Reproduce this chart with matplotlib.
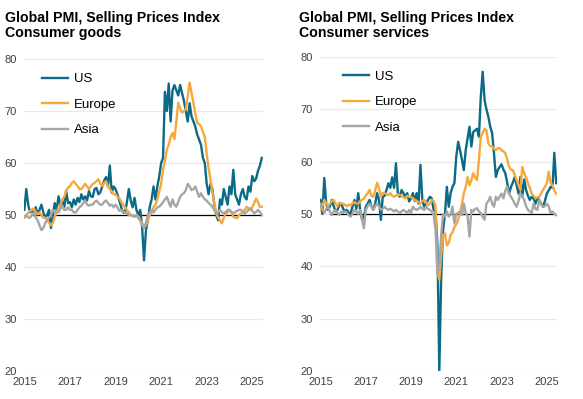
import numpy as np
import matplotlib
matplotlib.use("Agg")
import matplotlib.pyplot as plt

plt.rcParams['font.family'] = ['Liberation Sans', 'DejaVu Sans']

# monthly readings, Jan 2015 .. Jun 2025
goods_us = [
    51, 55, 52, 50.5, 51, 50, 51.5, 50, 51, 52, 50.5, 49.5,
    50, 51, 47.5, 50, 52.3, 51, 53.6, 51.8, 52.7, 51.5, 54.7, 52.3,
    52.5, 51.5, 53, 52, 53.3, 52.5, 54, 53, 53.6, 52.8, 54.6, 53.6,
    53.5, 55, 55.2, 54, 54.4, 55.5, 56.6, 57.3, 55.5, 59.5, 54.3, 55.5,
    55, 54, 52.8, 51.5, 50.5, 50.5, 52.5, 55, 52.8, 51.5, 53.3, 51,
    50, 51, 47.7, 41.3, 47, 49, 51.6, 53, 55.5, 53, 55.5, 57.4,
    60, 61, 73.7, 70, 75.3, 68, 74, 75, 74, 73, 75, 73.5,
    72, 70, 68, 71.5, 69, 68, 67, 65.5, 64.5, 63.5, 61, 60,
    56, 54, 56, 55, 52, 50, 49, 53, 52, 55, 53.5, 52,
    55.5, 54, 58.7, 54, 53, 52, 54, 55, 53.5, 53, 55.5, 54.5,
    57.5, 56.5, 57, 58.5, 59.5, 61,
]
goods_eu = [
    49.5, 50, 50.4, 50.8, 51, 51.3, 50.5, 50.2, 50.5, 50, 49.5, 49.5,
    49, 48.5, 48, 48.5, 49.7, 50.5, 51.5, 52, 53, 53.5, 54.6, 55.3,
    55.5, 56.2, 56.5, 56, 55.6, 55, 55, 55.5, 56, 55.5, 55, 55.5,
    56, 56.2, 56.5, 56.9, 56, 55.6, 56.2, 56.5, 55.5, 55, 54.5, 54,
    54, 53.5, 53.3, 52.5, 52, 51.5, 51, 50.5, 50, 50, 49.7, 50,
    49.7, 49, 48.5, 47.8, 48, 49, 50, 50.5, 51.5, 52, 53, 54.5,
    56, 58.7, 60.5, 62.6, 63.5, 65, 65.8, 64.6, 68, 71.6, 70.5, 69.7,
    70, 70.3, 72.9, 75.5, 73.5, 71.6, 69.5, 67.7, 67.5, 67, 66, 65,
    61.8, 59, 56.8, 54.5, 52.3, 50.5, 49.5, 49, 48.4, 49.5, 50.3, 50.5,
    51, 50.5, 49.7, 49.5, 49.4, 50, 50.3, 50.5, 51, 51.6, 51.3, 51,
    51.5, 52.3, 53.2, 52.5, 51.6, 51.6,
]
goods_asia = [
    49.7, 50, 49.5, 49.5, 50, 50.5, 49.5, 49, 48, 47.1, 47.5, 48.5,
    49, 49.5, 50, 51, 50.5, 50.8, 50.5, 51.2, 51.8, 51, 51, 51.5,
    51, 51, 50.5, 50.5, 51, 51.5, 51.8, 52.3, 52.8, 52, 51.8, 52,
    52, 52.5, 52.8, 52.3, 52, 52, 52.5, 52.8, 52.3, 51.8, 52, 51.5,
    52, 51.5, 50.8, 51, 50.6, 50.5, 50.3, 50, 50, 49.8, 49.7, 50,
    49.4, 49, 48, 47.5, 48.5, 50, 50.5, 51, 50.5, 51, 51.5, 51.6,
    52, 52.5, 53, 53.5, 52.5, 51.6, 53, 52, 51.6, 52.5, 53.5, 54,
    54.2, 54.8, 56, 55.5, 54.8, 55, 55.5, 54.5, 53.5, 54.2, 53.5, 53,
    52.8, 52.3, 52, 51.6, 51, 50.3, 50.5, 51, 50.6, 50.3, 50.6, 51,
    51, 50.6, 50.3, 50.6, 50.8, 51, 51, 50.6, 50.3, 50.6, 51, 51.3,
    50.8, 50.3, 50.6, 51, 50.6, 50,
]

serv_us = [
    52.7, 50, 56.9, 52, 50.8, 51.5, 52.7, 51.5, 50.5, 50.8, 51.8, 52,
    51, 50.5, 50.8, 50.2, 50.2, 51.5, 52.7, 51, 54, 50.8, 49, 49.5,
    51.4, 52, 52.7, 51.5, 50.8, 52, 54, 52.7, 48.9, 53.3, 53.5, 54.6,
    55.9, 55, 57, 55, 59.7, 54, 53.3, 54.6, 54, 53.3, 54, 52.4,
    53, 54, 52.5, 54, 52, 59.4, 52.7, 51.4, 52, 52.7, 53.3, 53,
    50.8, 50.5, 44, 20, 38, 47, 50, 55.2, 51.4, 54, 55.2, 55.9,
    61, 63.8, 62.2, 60.4, 58.4, 62.2, 64.5, 66.7, 62.9, 65.7, 66, 66.3,
    64.8, 72.4, 77.2, 71.8, 70, 68.6, 66.7, 65.5, 61.6, 57.1, 58.4, 59,
    59.5, 58.5, 57.8, 56, 53.9, 55.2, 56, 57.1, 55.5, 53.9, 57.1, 53.3,
    56.6, 54.6, 53.5, 52.7, 53.3, 53, 52, 53, 52.7, 52, 51.4, 52.5,
    53.9, 54.5, 55.2, 55, 61.7, 55.9,
]
serv_eu = [
    50.8, 51.5, 52.7, 52, 51.5, 52, 52.5, 52.7, 52, 51.5, 52.2, 52,
    52, 51.7, 51.5, 51.8, 51.7, 52, 52.3, 52, 52, 52.5, 52.7, 53,
    53.5, 54, 54.6, 53.5, 53.3, 54.5, 56, 55, 53.3, 54, 54, 53.8,
    53.6, 54, 53.5, 53.3, 53.5, 53.8, 53.6, 53.6, 53.2, 53, 53.5, 53.3,
    53.3, 53, 52.7, 52.5, 52.3, 52, 52.5, 52.7, 52.2, 51.7, 52, 52.7,
    52.5, 51.5, 39, 37.4, 42, 46, 46.3, 44, 44.5, 46, 46.5, 47.5,
    48, 49, 50, 52, 53.9, 55.2, 57.1, 55.5, 56.5, 57.8, 57, 56.5,
    60.3, 64.8, 65.5, 66.3, 66, 63.5, 63, 62.9, 62.5, 62.2, 62.6, 62.6,
    62.2, 62, 61.6, 60.5, 59, 58.5, 58.4, 57.5, 56.5, 55.5, 54.6, 59,
    57.8, 57, 55.9, 55, 53.9, 53.5, 53, 53.2, 53.3, 54, 54.6, 55.2,
    55.9, 58.1, 55.9, 55.6, 54.5, 53.9,
]
serv_asia = [
    52, 51, 50.2, 51, 51.4, 50.5, 49.8, 50.5, 50.8, 50.2, 49.8, 50.5,
    50.2, 50.5, 50.2, 49.8, 49.5, 50, 50.8, 50.5, 50, 50.8, 49, 47.3,
    50.8, 51.5, 52, 51.5, 50.8, 51.5, 52, 51.5, 50.8, 51, 51.4, 51,
    50.8, 51, 50.8, 50.5, 50.8, 50.5, 50.2, 50.5, 50.8, 50.5, 50.2, 50.8,
    50.2, 51.4, 51, 50.8, 51, 51.4, 51, 50.8, 51.4, 51, 50.8, 50.5,
    49.8, 47, 38.7, 40, 46, 50, 49.5, 50.5, 49.5, 50, 51.4, 48.2,
    50, 50.2, 50.5, 49.8, 52, 50.2, 49.5, 45.7, 50.8, 50.5, 51, 51.1,
    50.5, 50.2, 49.5, 48.9, 52, 52.5, 53.3, 52, 51.4, 53.3, 52.7, 53.3,
    53.9, 53, 54.5, 55.2, 53.9, 53.3, 52.7, 52, 51.4, 52.5, 53.9, 53.5,
    52.7, 51.5, 50.8, 50.5, 50.2, 52, 51, 50.8, 52.7, 52, 51.4, 51.5,
    52, 51.5, 50.2, 50.5, 50, 49.8,
]

series_names = ["US", "Europe", "Asia"]
colors = ["#0b6a86", "#f5a83c", "#a6a6a6"]
year_ticks = [2015, 2017, 2019, 2021, 2023, 2025]
y_ticks = [20, 30, 40, 50, 60, 70, 80]

x = 2015 + np.arange(len(goods_us)) / 12.0

fig = plt.figure(figsize=(5.83, 3.99), dpi=100)
ax1 = fig.add_axes([0.041, 0.070, 0.410, 0.782])
ax2 = fig.add_axes([0.549, 0.070, 0.407, 0.787])

panels = [
    (ax1, [goods_us, goods_eu, goods_asia], "Global PMI, Selling Prices Index\nConsumer goods", 0.008, 0.075, 0.955),
    (ax2, [serv_us, serv_eu, serv_asia], "Global PMI, Selling Prices Index\nConsumer services", 0.513, 0.095, 0.957),
]

for ax, data, title, tx, lx, ly in panels:
    for vals, name, c in zip(data, series_names, colors):
        ax.plot(x, vals, color=c, lw=1.7, label=name)
    ax.axhline(50, color="black", lw=0.9, xmin=0.04, zorder=1.5)
    ax.set_ylim(20, 80)
    ax.set_xlim(2014.98, 2015 + 125.6 / 12)
    ax.set_yticks(y_ticks)
    ax.set_xticks(year_ticks)
    ax.grid(axis="y", color="#e8e8e8", lw=0.8)
    ax.set_axisbelow(True)
    for s in ax.spines.values():
        s.set_visible(False)
    ax.tick_params(length=0, labelsize=8, labelcolor="#404040", pad=4)
    ax.tick_params(axis="y", pad=5)
    ax.legend(loc="upper left", bbox_to_anchor=(lx, ly), frameon=False,
              fontsize=9.5, handlelength=2.0, handletextpad=0.45,
              labelspacing=1.0, borderpad=0, borderaxespad=0)
    fig.text(tx, 0.972, title, fontsize=10.2, fontweight="bold", va="top",
             ha="left", linespacing=1.1)

fig.savefig("out.png", dpi=100)
